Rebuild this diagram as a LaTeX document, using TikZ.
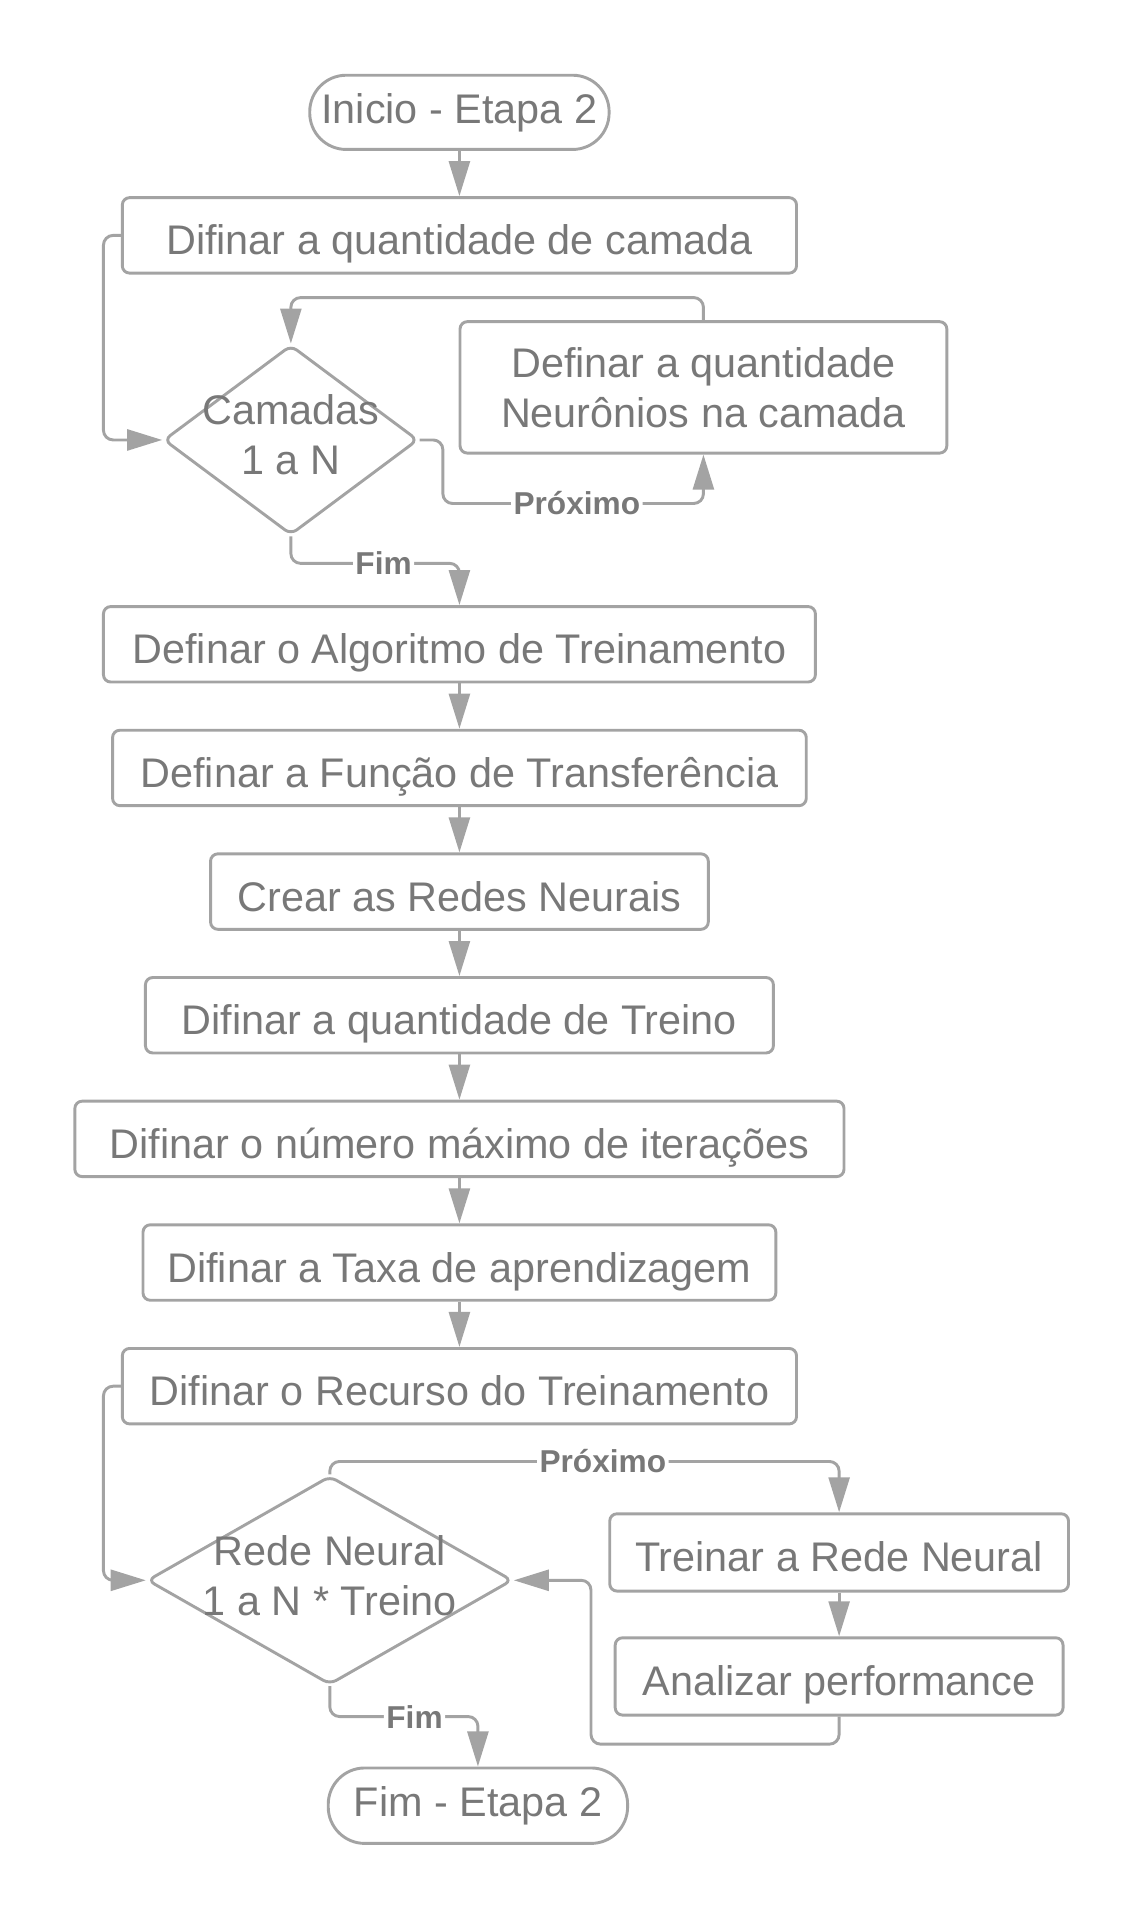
\documentclass[tikz,border=0pt]{standalone}
\usepackage{fontspec}
\setmainfont{Liberation Sans}
\usetikzlibrary{arrows.meta,positioning,shapes.geometric}
\definecolor{linegray}{HTML}{A3A3A3}
\definecolor{textgray}{HTML}{787878}
\tikzset{
    every picture/.style={
        line width=1.2pt,color=linegray,>={Triangle[length=14.4pt,width=8.6pt]},
        x=0.5pt,y=-0.5pt,node distance=18.6pt,rounded corners=4pt,
        every node/.style={text=textgray,font=\fontsize{17}{20.5}\selectfont},
        process/.style={rectangle,draw=linegray,rounded corners=3pt,minimum height=31pt,inner sep=0pt,
                        text height=17pt,text depth=1pt},
        multiline/.style={rectangle,draw=linegray,rounded corners=3pt,inner sep=0pt,align=center},
        terminal/.style={rectangle,draw=linegray,rounded corners=15pt,minimum width=123pt,minimum height=30.5pt,inner sep=0pt},
        decision/.style={diamond,draw=linegray,rounded corners=3pt,inner sep=0pt},
        lbl/.style={fill=white,inner sep=1pt,font=\bfseries\fontsize{13}{15}\selectfont}
    }
}

\begin{document}
\begin{tikzpicture}
    \useasboundingbox (0,0) rectangle (940,1576);
    \node[terminal]                       (start) at (377.5,92.3) {Inicio - Etapa 2};
    \node[process,minimum width=277pt]    (camada) [below=of start] {Difinar a quantidade de camada};
    \node[decision,minimum width=104.5pt,minimum height=78pt,
          label={[yshift=2pt,align=center]center:Camadas\\1 a N}] (camadas) at (239,361.5) {};
    \node[multiline,minimum width=200pt,minimum height=54pt] (neuronios) at (578,318.3) {Definar a quantidade\\Neurônios na camada};
    \node[process,minimum width=292.5pt]  (algoritmo) at (377.5,529.4) {Definar o Algoritmo de Treinamento};
    \node[process,minimum width=285pt]    (funcao) [below=of algoritmo] {Definar a Função de Transferência};
    \node[process,minimum width=204.5pt]  (redes) [below=of funcao] {Crear as Redes Neurais};
    \node[process,minimum width=258pt]    (treino) [below=of redes] {Difinar a quantidade de Treino};
    \node[process,minimum width=316pt]    (iteracoes) [below=of treino] {Difinar o número máximo de iterações};
    \node[process,minimum width=260pt]    (taxa) [below=of iteracoes] {Difinar a Taxa de aprendizagem};
    \node[process,minimum width=277pt]    (recurso) [below=of taxa] {Difinar o Recurso do Treinamento};
    \node[decision,minimum width=150pt,minimum height=85.75pt,
          label={[yshift=2pt,align=center]center:Rede Neural\\1 a N * Treino}] (rede) at (271,1298.5) {};
    \node[process,minimum width=188.5pt,minimum height=31.75pt] (treinar) at (689.5,1275.6) {Treinar a Rede Neural};
    \node[process,minimum width=184pt,minimum height=31.75pt] (analizar) [below=18pt of treinar] {Analizar performance};
    \node[terminal,minimum height=31pt]   (fim) at (392.7,1483.7) {Fim - Etapa 2};
    \coordinate (volta1) at (578,413.7);
    \coordinate (volta2) at (485.6,1298.5);

    \draw[->] (start) -- (camada);
    \draw[->] (camada.west) -- ++(-14.3,0) |- (camadas.west);
    \draw[->] (neuronios.north) -- ++(0,-18.6) -| (camadas.north);
    \draw[->] (camadas.east) -- ++(19.2,0) |- node[lbl,pos=0.757] {Próximo} (volta1) -- (neuronios.south);
    \draw[->] (camadas.south) -- ++(0,22.2) -| node[lbl,pos=0.275] {Fim} (algoritmo.north);
    \draw[->] (algoritmo) -- (funcao);
    \draw[->] (funcao) -- (redes);
    \draw[->] (redes) -- (treino);
    \draw[->] (treino) -- (iteracoes);
    \draw[->] (iteracoes) -- (taxa);
    \draw[->] (taxa) -- (recurso);
    \draw[->] (recurso.west) -- ++(-14.3,0) |- (rede.west);
    \draw[->] (rede.north) -- ++(0,-10.7) -| node[lbl,pos=0.268] {Próximo} (treinar.north);
    \draw[->] (treinar) -- (analizar);
    \draw[->] (analizar.south) -- ++(0,22.7) -| (volta2) -- (rede.east);
    \draw[->] (rede.south) -- ++(0,25) -| node[lbl,pos=0.286] {Fim} (fim.north);
\end{tikzpicture}
\end{document}
